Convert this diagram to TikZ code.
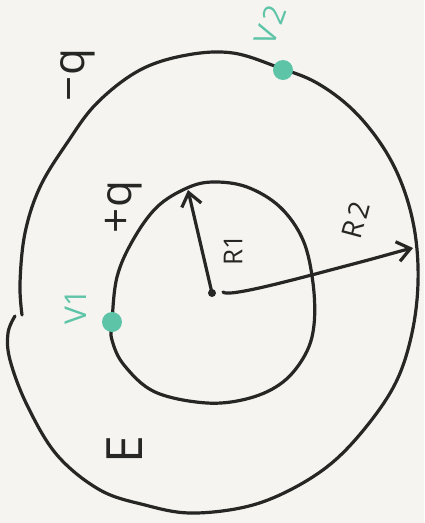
\documentclass[tikz,border=0pt]{standalone}
\usepackage{fontspec}
\setmainfont{Open Sans}
\usetikzlibrary{arrows.meta}
\definecolor{bgpaper}{RGB}{245,244,240}
\definecolor{ink}{RGB}{38,38,36}
\definecolor{tealdot}{RGB}{94,196,168}
\tikzset{
  curve/.style={draw=ink, line width=3.2pt, line cap=round, line join=round},
  lbl/.style={text=ink, inner sep=0pt, font=\fontsize{44}{44}\selectfont},
  vlbl/.style={lbl, text=tealdot, font=\fontsize{30}{30}\selectfont},
  vdot/.style={circle, fill=tealdot, minimum size=20pt, inner sep=0pt},
  cdot/.style={circle, fill=ink, minimum size=8pt, inner sep=0pt},
  barb/.style={-{Straight Barb[length=13pt,width=20pt]}}
}
\begin{document}
\begin{tikzpicture}[x=1pt,y=-1pt]
\fill[bgpaper] (0,0) rectangle (424,523);
\useasboundingbox (0,0) rectangle (424,523);
% outer surface (open at the left, ends overlapping)
\draw[curve] plot[smooth, tension=0.6] coordinates {
  (22,315) (20,283) (25,233) (40,187) (67,143) (97,103) (140,70) (187,55)
  (233,53) (280,68) (317,83) (353,110) (383,147) (403,187) (415,233)
  (418,283) (412,333) (397,380) (370,422) (333,462) (290,490) (245,507)
  (190,513) (145,505) (100,490) (57,455) (27,405) (10,360) (8,333) (15,316)};
% inner surface
\draw[curve] plot[smooth cycle, tension=0.6] coordinates {
  (112,322) (117,277) (133,240) (157,207) (187,188) (213,182) (247,187)
  (280,207) (303,240) (313,283) (314,325) (305,355) (283,382) (250,398)
  (207,403) (155,392) (124,365) (112,340)};
% centre and radii
\node[cdot] (ctr) at (212,293) {};
\coordinate (r1tip) at (188,190);
\coordinate (r2start) at (223,292);
\coordinate (r2tip) at (413,248);
\draw[curve, barb] (ctr.center) -- (r1tip);
\draw[curve, barb] (r2start) .. controls (228,298) and (300,278) .. (357,263)
  .. controls (380,257) and (400,251) .. (r2tip);
% potentials
\node[vdot] (v1) at (112,322) {};
\node[vdot] (v2) at (283,70) {};
% labels
\node[lbl, rotate=90] (qminus) at (78,75) {−q};
\node[lbl, rotate=90] (qplus) at (124,207) {+q};
\node[lbl, rotate=90, font=\fontsize{26}{26}\selectfont] (r1lbl) at (233,250) {R1};
\node[lbl, rotate=75, font=\fontsize{28}{28}\selectfont] (r2lbl) at (356,220) {R\kern4pt2};
\node[vlbl, rotate=90] (v1lbl) at (76,307) {V1};
\node[vlbl, rotate=70] (v2lbl) at (270,25) {V\kern4pt2};
\node[lbl, rotate=90, font=\fontsize{50}{50}\selectfont] (elbl) at (125,450) {E};
\end{tikzpicture}
\end{document}
